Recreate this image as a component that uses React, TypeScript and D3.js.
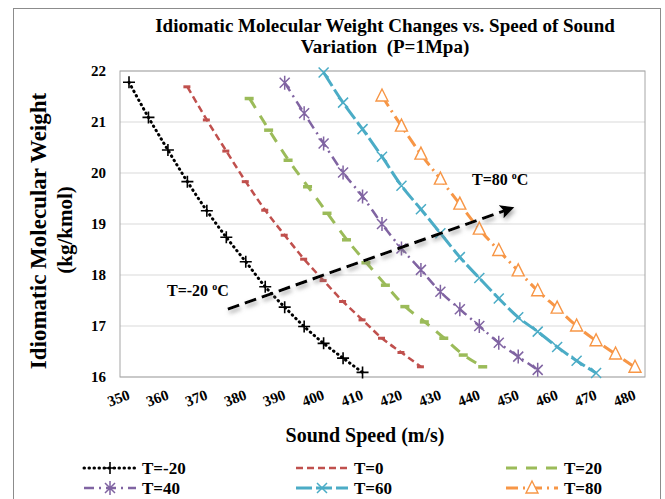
import React from 'react';
import * as d3 from 'd3';

// ---------- data ----------
const xTicks = [350, 360, 370, 380, 390, 400, 410, 420, 430, 440, 450, 460, 470, 480];
const yTicks = [16, 17, 18, 19, 20, 21, 22];

const speedTm20 = [350, 355, 360, 365, 370, 375, 380, 385, 390, 395, 400, 405, 410];
const mwTm20 = [21.78, 21.09, 20.45, 19.83, 19.26, 18.74, 18.26, 17.77, 17.37, 16.99, 16.66, 16.37, 16.09];

const speedT0 = [365, 370, 375, 380, 385, 390, 395, 400, 405, 410, 415, 420, 425];
const mwT0 = [21.69, 21.04, 20.43, 19.83, 19.27, 18.78, 18.31, 17.89, 17.48, 17.12, 16.76, 16.48, 16.2];

const speedT20 = [381, 386, 391, 396, 401, 406, 411, 416, 421, 426, 431, 436, 441];
const mwT20 = [21.46, 20.84, 20.25, 19.73, 19.21, 18.69, 18.24, 17.8, 17.38, 17.08, 16.76, 16.43, 16.2];

const speedT40 = [390, 395, 400, 405, 410, 415, 420, 425, 430, 435, 440, 445, 450, 455];
const mwT40 = [21.77, 21.17, 20.58, 20.01, 19.54, 19.0, 18.52, 18.1, 17.67, 17.33, 17.0, 16.67, 16.4, 16.14];

const speedT60 = [400, 405, 410, 415, 420, 425, 430, 435, 440, 445, 450, 455, 460, 465, 470];
const mwT60 = [21.97, 21.38, 20.86, 20.32, 19.75, 19.29, 18.82, 18.35, 17.94, 17.54, 17.17, 16.89, 16.59, 16.32, 16.08];

const speedT80 = [415, 420, 425, 430, 435, 440, 445, 450, 455, 460, 465, 470, 475, 480];
const mwT80 = [21.51, 20.92, 20.37, 19.88, 19.39, 18.9, 18.48, 18.08, 17.69, 17.35, 17.0, 16.71, 16.45, 16.19];

const seriesNames = ['T=-20', 'T=0', 'T=20', 'T=40', 'T=60', 'T=80'];

// arrow annotation (data coordinates)
const arrowFrom = [375.4, 17.33];
const arrowTo = [449, 19.33];

// ---------- styles ----------
const FONT = '"Liberation Serif", "Times New Roman", serif';

type Style = { color: string; dash: string; width: number; cap: string; marker: string };
const styles: Style[] = [
  { color: '#000000', dash: '0.5,4.5', width: 3, cap: 'round', marker: 'plus' },
  { color: '#C0504D', dash: '7,4', width: 2.5, cap: 'butt', marker: 'dash' },
  { color: '#9BBB59', dash: '11,9', width: 3, cap: 'butt', marker: 'dashG' },
  { color: '#8064A2', dash: '10,5,2,5', width: 2.5, cap: 'butt', marker: 'star' },
  { color: '#4BACC6', dash: '16,4', width: 3, cap: 'butt', marker: 'x' },
  { color: '#F79646', dash: '12,5,2,5', width: 3, cap: 'butt', marker: 'tri' },
];

function Marker({ type, cx, cy, color }: { type: string; cx: number; cy: number; color: string }) {
  const s = 6;
  switch (type) {
    case 'plus':
      return (
        <path d={`M${cx - s},${cy}H${cx + s}M${cx},${cy - s}V${cy + s}`} stroke={color} strokeWidth={1.6} fill="none" />
      );
    case 'dash':
      return <path d={`M${cx - 4},${cy}H${cx + 3}`} stroke={color} strokeWidth={3} fill="none" />;
    case 'dashG':
      return <path d={`M${cx - 5},${cy}H${cx + 4}`} stroke={color} strokeWidth={3.5} fill="none" />;
    case 'star':
      return (
        <path
          d={`M${cx - 5},${cy - 5}L${cx + 5},${cy + 5}M${cx - 5},${cy + 5}L${cx + 5},${cy - 5}M${cx},${cy - 7}V${cy + 7}`}
          stroke={color}
          strokeWidth={1.5}
          fill="none"
        />
      );
    case 'x':
      return (
        <path
          d={`M${cx - 5},${cy - 5}L${cx + 5},${cy + 5}M${cx - 5},${cy + 5}L${cx + 5},${cy - 5}`}
          stroke={color}
          strokeWidth={1.5}
          fill="none"
        />
      );
    case 'tri':
      return (
        <path
          d={`M${cx},${cy - 7}L${cx + 6},${cy + 5}L${cx - 6},${cy + 5}Z`}
          stroke={color}
          strokeWidth={1.4}
          fill="#ffffff"
        />
      );
    default:
      return null;
  }
}

export default function App() {
  const W = 665;
  const H = 499;
  const plotL = 120;
  const plotR = 645;
  const plotT = 71;
  const plotB = 377;

  const x = d3.scaleLinear().domain([350, 480]).range([129, 635]);
  const y = d3.scaleLinear().domain([16, 22]).range([plotB, plotT]);

  const speeds = [speedTm20, speedT0, speedT20, speedT40, speedT60, speedT80];
  const mws = [mwTm20, mwT0, mwT20, mwT40, mwT60, mwT80];

  const line = d3
    .line<[number, number]>()
    .x((d) => x(d[0]))
    .y((d) => y(d[1]))
    .curve(d3.curveMonotoneX);

  const legendCols = [84, 296, 506];
  const legendRows = [468, 488];
  const sampleLen = 52;

  return (
    <svg
      width={W}
      height={H}
      style={{ position: 'absolute', left: 0, top: 0, background: '#ffffff' }}
      fontFamily={FONT}
    >
      <defs>
        <filter id="shadow" x="-20%" y="-50%" width="140%" height="200%">
          <feDropShadow dx="1.5" dy="3" stdDeviation="2" floodColor="#808080" floodOpacity="0.7" />
        </filter>
        <marker id="ahead" markerUnits="userSpaceOnUse" markerWidth="16" markerHeight="14" refX="14" refY="7" orient="auto">
          <path d="M0,0L14,7L0,14L3,7Z" fill="#000" />
        </marker>
      </defs>

      {/* outer chart border */}
      <rect x={13.5} y={8.5} width={647} height={500} fill="#fff" stroke="#8c8c8c" strokeWidth={1} />

      {/* title */}
      <text x={385} y={32} textAnchor="middle" fontSize={19} fontWeight="bold">
        Idiomatic Molecular Weight Changes vs. Speed of Sound
      </text>
      <text x={385} y={53} textAnchor="middle" fontSize={19} fontWeight="bold" style={{ whiteSpace: 'pre' }}>
        {'Variation  (P=1Mpa)'}
      </text>

      {/* gridlines */}
      {yTicks.map((t) => (
        <line key={'g' + t} x1={plotL} x2={plotR} y1={y(t)} y2={y(t)} stroke="#d9d9d9" strokeWidth={1} />
      ))}
      {/* plot frame */}
      <rect x={plotL} y={plotT} width={plotR - plotL} height={plotB - plotT} fill="none" stroke="#a6a6a6" strokeWidth={1} />

      {/* y tick labels */}
      {yTicks.map((t) => (
        <text key={'yl' + t} x={106} y={y(t)} dy="0.35em" textAnchor="end" fontSize={15} fontWeight="bold">
          {t}
        </text>
      ))}

      {/* x tick labels */}
      {xTicks.map((t) => (
        <text
          key={'xl' + t}
          transform={`translate(${x(t)},${plotB + 17}) rotate(-20)`}
          textAnchor="end"
          dy="0.35em"
          fontSize={15}
          fontWeight="bold"
        >
          {t}
        </text>
      ))}

      {/* axis titles */}
      <text transform="translate(46,231) rotate(-90)" textAnchor="middle" fontSize={23} fontWeight="bold">
        Idiomatic Molecular Weight
      </text>
      <text transform="translate(72,230) rotate(-90)" textAnchor="middle" fontSize={21} fontWeight="bold">
        (kg/kmol)
      </text>
      <text x={365} y={442} textAnchor="middle" fontSize={20} fontWeight="bold">
        Sound Speed (m/s)
      </text>

      {/* series */}
      {speeds.map((sp, i) => {
        const pts = sp.map((v, j) => [v, mws[i][j]] as [number, number]);
        const st = styles[i];
        return (
          <g key={'s' + i}>
            <path
              d={line(pts) || ''}
              fill="none"
              stroke={st.color}
              strokeWidth={st.width}
              strokeDasharray={st.dash}
              strokeLinecap={st.cap as any}
            />
            {pts.map((p, j) => (
              <Marker key={j} type={st.marker} cx={x(p[0])} cy={y(p[1])} color={st.color} />
            ))}
          </g>
        );
      })}

      {/* arrow */}
      <g filter="url(#shadow)">
        <line
          x1={x(arrowFrom[0])}
          y1={y(arrowFrom[1])}
          x2={x(arrowTo[0])}
          y2={y(arrowTo[1])}
          stroke="#000"
          strokeWidth={3}
          strokeDasharray="12,6"
          markerEnd="url(#ahead)"
        />
      </g>

      {/* annotations */}
      <text x={167} y={296} fontSize={16} fontWeight="bold">
        T=-20 <tspan fontSize={10} dy={-6}>o</tspan>
        <tspan dy={6}>C</tspan>
      </text>
      <text x={472} y={185} fontSize={16} fontWeight="bold">
        T=80 <tspan fontSize={10} dy={-6}>o</tspan>
        <tspan dy={6}>C</tspan>
      </text>

      {/* legend */}
      {seriesNames.map((name, i) => {
        const col = i % 3;
        const row = Math.floor(i / 3);
        const x0 = legendCols[col];
        const yy = legendRows[row];
        const st = styles[i];
        return (
          <g key={'lg' + i}>
            <line
              x1={x0}
              x2={x0 + sampleLen}
              y1={yy}
              y2={yy}
              stroke={st.color}
              strokeWidth={st.width}
              strokeDasharray={st.dash}
              strokeLinecap={st.cap as any}
            />
            {st.marker !== 'dash' && st.marker !== 'dashG' && (
              <Marker type={st.marker} cx={x0 + sampleLen / 2} cy={yy} color={st.color} />
            )}
            <text x={x0 + 58} y={yy} dy="0.35em" fontSize={17} fontWeight="bold">
              {name}
            </text>
          </g>
        );
      })}
    </svg>
  );
}
